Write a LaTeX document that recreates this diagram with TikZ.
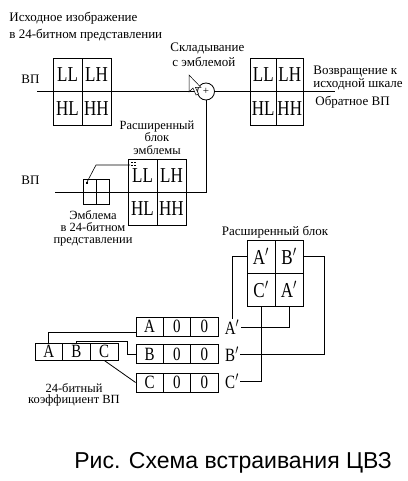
\documentclass[tikz,border=0pt]{standalone}
\usepackage{fontspec}
\setmainfont{Liberation Serif}
\newfontfamily\capfont{Liberation Sans}
\newcommand\bigcf{\fontsize{17}{17}\selectfont}
\newcommand\midcf{\fontsize{15}{15}\selectfont}
\newcommand\labf{\fontsize{13}{17}\selectfont}
\newcommand\vst[1]{\scalebox{1}[1.25]{#1}}
\begin{document}
\begin{tikzpicture}[x=1pt,y=-1pt,line width=0.8pt,
  bcell/.style={draw,inner sep=0pt,font=\bigcf},
  rcell/.style={draw,inner sep=0pt,font=\midcf,minimum width=27.3pt,minimum height=19pt},
  lbl/.style={inner sep=0pt,font=\labf},
  wire/.style={line width=0.8pt}]
\useasboundingbox[fill=white] (0,0) rectangle (407,481);

% ---------- top-left block
\node[bcell,minimum width=29pt,minimum height=33.5pt] (tLL) at (67.5,74.75) {\vst{LL}};
\node[bcell,minimum width=29pt,minimum height=33.5pt] (tLH) at (96.5,74.75) {\vst{LH}};
\node[bcell,minimum width=29pt,minimum height=33.5pt] (tHL) at (67.5,108.25) {\vst{HL}};
\node[bcell,minimum width=29pt,minimum height=33.5pt] (tHH) at (96.5,108.25) {\vst{HH}};

% ---------- right block
\node[bcell,minimum width=26.5pt,minimum height=33.5pt] (oLL) at (263.25,74.75) {\vst{LL}};
\node[bcell,minimum width=26.5pt,minimum height=33.5pt] (oLH) at (289.75,74.75) {\vst{LH}};
\node[bcell,minimum width=26.5pt,minimum height=33.5pt] (oHL) at (263.25,108.25) {\vst{HL}};
\node[bcell,minimum width=26.5pt,minimum height=33.5pt] (oHH) at (289.75,108.25) {\vst{HH}};

% ---------- extended emblem block
\node[bcell,minimum width=29pt,minimum height=33pt] (eLL) at (142.5,175.5) {\vst{LL}};
\node[bcell,minimum width=29pt,minimum height=33pt] (eLH) at (171.5,175.5) {\vst{LH}};
\node[bcell,minimum width=29pt,minimum height=33pt] (eHL) at (142.5,208.5) {\vst{HL}};
\node[bcell,minimum width=29pt,minimum height=33pt] (eHH) at (171.5,208.5) {\vst{HH}};

% ---------- emblem
\node[draw,inner sep=0pt,minimum width=13pt,minimum height=25pt] (em1) at (89.5,191.5) {};
\node[draw,inner sep=0pt,minimum width=13pt,minimum height=25pt] (em2) at (102.5,191.5) {};

% ---------- sum
\node[circle,draw,inner sep=0pt,minimum size=17pt,font=\fontsize{11}{11}\selectfont] (sum) at (206,91.5) {+};

\coordinate (vp1) at (37,91.5);
\coordinate (out) at (335,91.5);
\coordinate (vp2) at (55,192);
\draw[wire] (vp1) -- (sum.west);
\draw[wire] (sum.east) -- (out);
\draw[wire] (sum.south) |- (vp2);

% dots and emblem pointer
\coordinate (edot) at (86.5,183);
\coordinate (xdot) at (130,165);
\fill (edot) ++(-1,-1) rectangle ++(2,2);
\foreach \dx in {0,3}{\foreach \dy in {0,3}{\fill (131+\dx,161.5+\dy) rectangle ++(1.6,1.6);}}
\draw[line width=0.6pt] (edot) -- (96,165) -- (xdot);

% cursor
\draw[fill=white,line width=0.5pt,line join=miter] (189,75) -- (189,92) -- (193,88) -- (196,95) -- (198.5,94) -- (195.5,87.5) -- (201,87.5) -- cycle;

% ---------- texts top
\node[lbl,anchor=west] (t1) at (9,18) {Исходное изображение};
\node[lbl,anchor=west] (t2) at (9,35) {в 24-битном представлении};
\node[lbl,anchor=west] (vpa) at (21,79) {ВП};
\node[lbl,anchor=west] (vpb) at (21,180) {ВП};
\node[lbl,anchor=west] (t3) at (170,48) {Складывание};
\node[lbl,anchor=west] (t4) at (172,62) {с эмблемой};
\node[lbl,anchor=west,align=left,font=\fontsize{13}{10}\selectfont] (t5) at (313,78) {Возвращение к\\исходной шкале};
\node[lbl,anchor=west] (t6) at (315,102) {Обратное ВП};
\node[lbl,align=center,font=\fontsize{12.5}{12.5}\selectfont] (t7) at (157,137.5) {Расширенный\\блок\\эмблемы};
\node[lbl,align=center,font=\fontsize{12.5}{12}\selectfont] (t8) at (93,228) {Эмблема\\в 24-битном\\представлении};

% ---------- bottom block
\node[lbl] (t9) at (275,232) {Расширенный блок};
\node[bcell,minimum width=28pt,minimum height=33pt] (bA) at (261,256.5) {\vst{A$'$}};
\node[bcell,minimum width=28pt,minimum height=33pt] (bB) at (289,256.5) {\vst{B$'$}};
\node[bcell,minimum width=28pt,minimum height=33pt] (bC) at (261,289.5) {\vst{C$'$}};
\node[bcell,minimum width=28pt,minimum height=33pt] (bD) at (289,289.5) {\vst{A$'$}};

% rows
\node[rcell] (rA1) at (149.65,326.5) {\vst{A}};
\node[rcell] (rA2) at (176.95,326.5) {\vst{0}};
\node[rcell] (rA3) at (204.25,326.5) {\vst{0}};
\node[rcell] (rB1) at (149.65,354) {\vst{B}};
\node[rcell] (rB2) at (176.95,354) {\vst{0}};
\node[rcell] (rB3) at (204.25,354) {\vst{0}};
\node[rcell] (rC1) at (149.65,382.5) {\vst{C}};
\node[rcell] (rC2) at (176.95,382.5) {\vst{0}};
\node[rcell] (rC3) at (204.25,382.5) {\vst{0}};

\node[inner sep=1pt,font=\midcf] (la) at (232,327) {\vst{A$'$}};
\node[inner sep=1pt,font=\midcf] (lb) at (232,354) {\vst{B$'$}};
\node[inner sep=1pt,font=\midcf] (lc) at (232,381.5) {\vst{C$'$}};

% ABC coefficient
\node[rcell,minimum width=27.67pt,minimum height=17pt] (cA) at (48.8,351.5) {\vst{A}};
\node[rcell,minimum width=27.67pt,minimum height=17pt] (cB) at (76.5,351.5) {\vst{B}};
\node[rcell,minimum width=27.67pt,minimum height=17pt] (cC) at (104.2,351.5) {\vst{C}};
\node[lbl,align=center,font=\fontsize{12.5}{11}\selectfont] (t10) at (74,394.5) {24-битный\\коэффициент ВП};

% connectors bottom
\draw[wire] (bA.west) -| (la.north);
\draw[wire] (bD.south) |- (la.east);
\draw[wire] (bC.south) |- (lc.east);
\draw[wire] (bB.east) -- ++(21,0) |- (lb.east);
\draw[wire] (cA.north) |- ([yshift=-5.5pt]rA1.west);
\draw[wire] (cB.north) |- (127,341) |- (rB1.west);
\draw[wire] (cC.south) -- (rC1.west);

% caption
\node[inner sep=0pt,font=\capfont\fontsize{23}{23}\selectfont] (cap) at (233,463) {Рис. Схема встраивания ЦВЗ};
\end{tikzpicture}
\end{document}
